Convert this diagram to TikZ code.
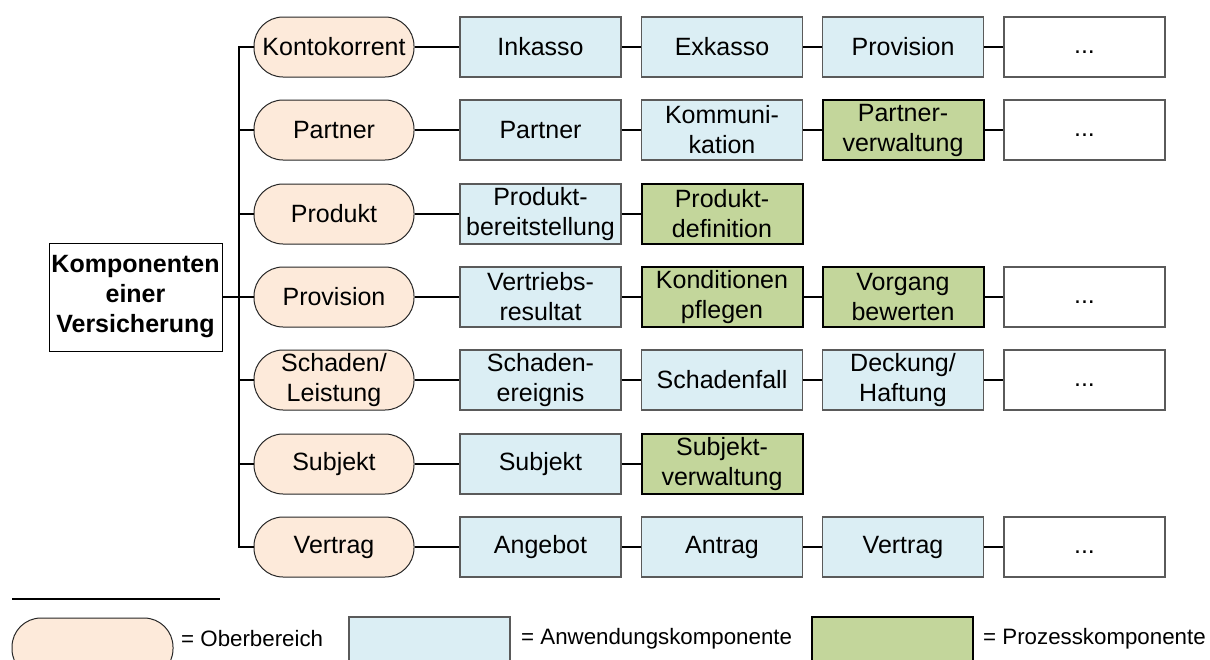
\documentclass[tikz,border=0pt]{standalone}
\usepackage{fontspec}
\setmainfont{Liberation Sans}
\definecolor{peach}{HTML}{FDEADA}
\definecolor{lblue}{HTML}{DBEEF4}
\definecolor{lgreen}{HTML}{C3D69B}
\definecolor{bgray}{HTML}{5A5A5A}
\tikzset{
  base/.style={minimum width=161pt, minimum height=60pt, inner sep=0pt, align=center, font=\fontsize{25}{30}\selectfont},
  pill/.style={base, draw=black!85, line width=1pt, fill=peach, rounded corners=29pt, minimum width=160pt},
  app/.style={base, draw=bgray, line width=1.1pt, fill=lblue},
  proc/.style={base, draw=black, line width=2pt, fill=lgreen},
  more/.style={base, draw=bgray, line width=1.1pt, fill=white},
  link/.style={draw=black, line width=1.6pt},
  trunk/.style={draw=black, line width=2pt},
  legtext/.style={anchor=west, inner sep=0pt, font=\fontsize{22.3}{26}\selectfont},
}
\newcommand{\dotsx}{\vphantom{Ag}...}
\begin{document}
\begin{tikzpicture}[x=1pt,y=-1pt]
\useasboundingbox (0,0) rectangle (1210,659);
\clip (0,0) rectangle (1210,659);
% main box
\node[draw=black, line width=1pt, minimum width=173pt, minimum height=108pt, inner sep=0pt, align=center, font=\fontsize{25}{30}\selectfont\bfseries] (main) at (135.5,297) {Komponenten\\einer\\Versicherung};
\coordinate (tr) at (239,297);
% pills
\node[pill] (p1) at (334,47) {Kontokorrent};
\node[pill] (p2) at (334,130) {Partner};
\node[pill] (p3) at (334,214) {Produkt};
\node[pill] (p4) at (334,297) {Provision};
\node[pill] (p5) at (334,380) {Schaden/\\Leistung};
\node[pill] (p6) at (334,464) {Subjekt};
\node[pill] (p7) at (334,547) {Vertrag};
% trunk
\draw[trunk] (main.east) -- (tr);
\foreach \i in {1,...,7} {\draw[trunk] (tr) |- (p\i.west);}
% row 1
\node[app] (a11) at (540.5,47) {Inkasso};
\node[app] (a12) at (722,47) {Exkasso};
\node[app] (a13) at (903,47) {Provision};
\node[more] (a14) at (1084.5,47) {\dotsx};
% row 2
\node[app] (a21) at (540.5,130) {Partner};
\node[app] (a22) at (722,130) {Kommuni-\\kation};
\node[proc] (a23) at (903,130) {Partner-\\verwaltung};
\node[more] (a24) at (1084.5,130) {\dotsx};
% row 3
\node[app] (a31) at (540.5,214) {Produkt-\\bereitstellung};
\node[proc] (a32) at (722,214) {Produkt-\\definition};
% row 4
\node[app] (a41) at (540.5,297) {Vertriebs-\\resultat};
\node[proc] (a42) at (722,297) {Konditionen\\pflegen};
\node[proc] (a43) at (903,297) {Vorgang\\bewerten};
\node[more] (a44) at (1084.5,297) {\dotsx};
% row 5
\node[app] (a51) at (540.5,380) {Schaden-\\ereignis};
\node[app] (a52) at (722,380) {Schadenfall};
\node[app] (a53) at (903,380) {Deckung/\\Haftung};
\node[more] (a54) at (1084.5,380) {\dotsx};
% row 6
\node[app] (a61) at (540.5,464) {Subjekt};
\node[proc] (a62) at (722,464) {Subjekt-\\verwaltung};
% row 7
\node[app] (a71) at (540.5,547) {Angebot};
\node[app] (a72) at (722,547) {Antrag};
\node[app] (a73) at (903,547) {Vertrag};
\node[more] (a74) at (1084.5,547) {\dotsx};
% links
\draw[link] (p1) -- (a11); \draw[link] (a11) -- (a12); \draw[link] (a12) -- (a13); \draw[link] (a13) -- (a14);
\draw[link] (p2) -- (a21); \draw[link] (a21) -- (a22); \draw[link] (a22) -- (a23); \draw[link] (a23) -- (a24);
\draw[link] (p3) -- (a31); \draw[link] (a31) -- (a32);
\draw[link] (p4) -- (a41); \draw[link] (a41) -- (a42); \draw[link] (a42) -- (a43); \draw[link] (a43) -- (a44);
\draw[link] (p5) -- (a51); \draw[link] (a51) -- (a52); \draw[link] (a52) -- (a53); \draw[link] (a53) -- (a54);
\draw[link] (p6) -- (a61); \draw[link] (a61) -- (a62);
\draw[link] (p7) -- (a71); \draw[link] (a71) -- (a72); \draw[link] (a72) -- (a73); \draw[link] (a73) -- (a74);
% legend
\coordinate (ll) at (12,599);
\coordinate (lr) at (220,599);
\draw[black, line width=2.2pt] (ll) -- (lr);
\node[pill, minimum width=161pt] (lp) at (92.5,648) {};
\node[legtext] (lpt) at (181,639) {= Oberbereich};
\node[app] (la) at (429.5,647) {};
\node[legtext] (lat) at (521,639) {= Anwendungskomponente};
\node[proc] (lg) at (892.5,647) {};
\node[legtext] (lgt) at (983,639) {= Prozesskomponente};
\end{tikzpicture}
\end{document}
